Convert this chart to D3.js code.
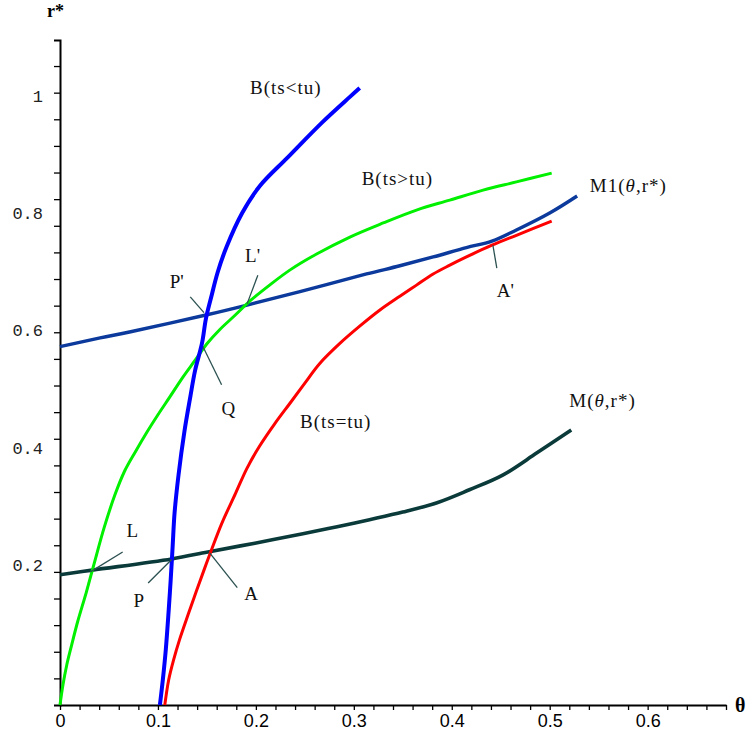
<!DOCTYPE html>
<html><head><meta charset="utf-8">
<script src="https://cdn.jsdelivr.net/npm/d3@7"></script>
<style>body{margin:0;background:#fff}svg{display:block}</style>
</head><body>
<svg id="c" width="752" height="749"></svg>
<script>
// ---- data (θ, r*) ----
const xTickLabels = [0, 0.1, 0.2, 0.3, 0.4, 0.5, 0.6];
const yTickLabels = [0.2, 0.4, 0.6, 0.8, 1];

const bLess = [[0.102,-0.039],[0.105,0.004],[0.108,0.055],[0.111,0.123],[0.113,0.174],[0.115,0.231],
  [0.117,0.289],[0.121,0.353],[0.127,0.427],[0.133,0.486],[0.138,0.532],[0.145,0.578],[0.149,0.620],
  [0.154,0.654],[0.161,0.699],[0.170,0.742],[0.186,0.800],[0.204,0.846],[0.232,0.894],[0.268,0.955],
  [0.296,0.998],[0.306,1.013]];
const bGreater = [[0,-0.039],[0.003,-0.005],[0.007,0.030],[0.012,0.064],[0.018,0.103],[0.027,0.154],
  [0.035,0.203],[0.045,0.263],[0.056,0.319],[0.066,0.360],[0.077,0.393],[0.089,0.427],[0.100,0.456],
  [0.112,0.486],[0.125,0.519],[0.138,0.549],[0.150,0.577],[0.163,0.601],[0.179,0.626],[0.194,0.650],
  [0.214,0.677],[0.235,0.703],[0.262,0.730],[0.296,0.759],[0.330,0.783],[0.364,0.805],[0.398,0.822],
  [0.432,0.839],[0.466,0.853],[0.502,0.868]];
const bEqual = [[0.107,-0.039],[0.111,0.004],[0.116,0.038],[0.122,0.072],[0.131,0.116],[0.139,0.154],
  [0.147,0.191],[0.155,0.227],[0.165,0.270],[0.179,0.321],[0.191,0.365],[0.204,0.403],[0.219,0.440],
  [0.235,0.476],[0.250,0.510],[0.265,0.543],[0.286,0.578],[0.306,0.607],[0.327,0.635],[0.347,0.658],
  [0.364,0.677],[0.381,0.696],[0.398,0.711],[0.415,0.725],[0.441,0.745],[0.466,0.762],[0.502,0.786]];
const m1 = [[0,0.572],[0.041,0.587],[0.071,0.597],[0.149,0.626],[0.191,0.643],[0.245,0.666],
  [0.313,0.696],[0.347,0.710],[0.381,0.725],[0.415,0.741],[0.441,0.752],[0.466,0.771],[0.500,0.800],
  [0.528,0.829]];
const m = [[0,0.183],[0.033,0.191],[0.114,0.210],[0.151,0.222],[0.199,0.237],[0.248,0.253],
  [0.283,0.265],[0.316,0.277],[0.350,0.290],[0.385,0.306],[0.418,0.328],[0.452,0.353],[0.487,0.391],
  [0.522,0.430]];

// leader lines: [[θ1,r1],[θ2,r2]]
const leaders = [
  [[0.133,0.657],[0.147,0.630]],   // P'
  [[0.202,0.694],[0.191,0.645]],   // L'
  [[0.146,0.572],[0.165,0.507]],   // Q
  [[0.031,0.188],[0.064,0.222]],   // L
  [[0.114,0.209],[0.090,0.169]],   // P
  [[0.153,0.220],[0.181,0.161]],   // A
  [[0.442,0.745],[0.446,0.706]]    // A'
];
// annotation texts and their anchor (θ, r*)
const annotations = [
  {t:"B(ts<tu)", at:[0.194,1.003]},
  {t:"B(ts>tu)", at:[0.308,0.848]},
  {t:"B(ts=tu)", at:[0.245,0.433]},
  {t:"M1(θ,r*)", at:[0.541,0.836]},
  {t:"M(θ,r*)",  at:[0.520,0.469]},
  {t:"P'", at:[0.112,0.672]},
  {t:"L'", at:[0.189,0.716]},
  {t:"Q",  at:[0.165,0.456]},
  {t:"L",  at:[0.068,0.248]},
  {t:"P",  at:[0.075,0.128]},
  {t:"A",  at:[0.188,0.140]},
  {t:"A'", at:[0.446,0.657]}
];

// ---- scales ----
const yMin = -0.039, yMax = 1.095, yMinorStep = 0.0454;
const x = d3.scaleLinear().domain([0, 0.68]).range([60, 726]);
const y = d3.scaleLinear().domain([yMin, yMax]).range([705, 40]);

const svg = d3.select("#c");

// ---- axes ----
const xMinor = d3.range(0, 0.6801, 0.02);
const gx = svg.append("g").attr("transform", `translate(0,${y(yMin)})`)
  .call(d3.axisBottom(x).tickValues(xMinor).tickSize(5).tickSizeOuter(0).tickFormat(""));
gx.select(".domain").attr("stroke", "#000").attr("stroke-width", 2);
gx.selectAll(".tick line").attr("stroke", "#000").attr("stroke-width", 1.3);

const gxl = svg.append("g").attr("transform", `translate(0,${y(yMin)})`)
  .call(d3.axisBottom(x).tickValues(xTickLabels).tickSize(0).tickPadding(9).tickFormat(d3.format("")));
gxl.select(".domain").remove();
gxl.selectAll("text").attr("font-family", "'Liberation Sans Narrow','Liberation Sans',Arial,sans-serif")
  .attr("font-size", 18).attr("fill", "#000");

const yMinor = d3.range(1, 25).map(k => yMin + k * yMinorStep);
const gy = svg.append("g").attr("transform", `translate(${x(0)},0)`)
  .call(d3.axisLeft(y).tickValues(yMinor).tickSize(6).tickSizeOuter(6).tickFormat(""));
gy.select(".domain").attr("stroke", "#000").attr("stroke-width", 2);
gy.selectAll(".tick line").attr("stroke", "#000").attr("stroke-width", 1.3);

const gyl = svg.append("g").attr("transform", `translate(${x(0)},0)`)
  .call(d3.axisLeft(y).tickValues(yTickLabels).tickSize(0).tickPadding(17).tickFormat(d3.format("")));
gyl.select(".domain").remove();
gyl.selectAll("text").attr("font-family", "'Liberation Mono','DejaVu Sans Mono',monospace")
  .attr("font-size", 17).attr("fill", "#222");

// axis titles
svg.append("text").attr("x", 47).attr("y", 17)
  .attr("font-family", "'Liberation Serif',serif").attr("font-weight", "bold").attr("font-size", 18)
  .text("r*");
svg.append("text").attr("x", 735).attr("y", 712)
  .attr("font-family", "'Liberation Serif',serif").attr("font-weight", "bold").attr("font-size", 20)
  .text("θ");

// ---- curves ----
const line = d3.line().x(d => x(d[0])).y(d => y(d[1])).curve(d3.curveCatmullRom.alpha(0.5));
const series = [
  {d: m,        c: "#0a3b3a", w: 3.6},
  {d: m1,       c: "#0b3a9c", w: 3.4},
  {d: bEqual,   c: "#ff0000", w: 3},
  {d: bGreater, c: "#00f000", w: 3},
  {d: bLess,    c: "#0000ff", w: 4}
];
svg.append("g").selectAll("path").data(series).join("path")
  .attr("d", s => line(s.d)).attr("fill", "none")
  .attr("stroke", s => s.c).attr("stroke-width", s => s.w)
  .attr("stroke-linejoin", "round").attr("stroke-linecap", "butt");

// leader lines
svg.append("g").selectAll("line").data(leaders).join("line")
  .attr("x1", d => x(d[0][0])).attr("y1", d => y(d[0][1]))
  .attr("x2", d => x(d[1][0])).attr("y2", d => y(d[1][1]))
  .attr("stroke", "#2b5150").attr("stroke-width", 1.3);

// annotation texts
const ann = svg.append("g").attr("font-family", "'Liberation Serif','Times New Roman',serif")
  .attr("font-size", 19).attr("fill", "#111");
annotations.forEach(a => {
  const t = ann.append("text").attr("x", x(a.at[0])).attr("y", y(a.at[1]))
    .attr("letter-spacing", a.t.length > 2 ? 1 : 0);
  const parts = a.t.split("θ");
  t.append("tspan").text(parts[0]);
  if (parts.length > 1) {
    t.append("tspan").attr("font-style", "italic").text("θ");
    t.append("tspan").text(parts[1]);
  }
});
</script>
</body></html>
